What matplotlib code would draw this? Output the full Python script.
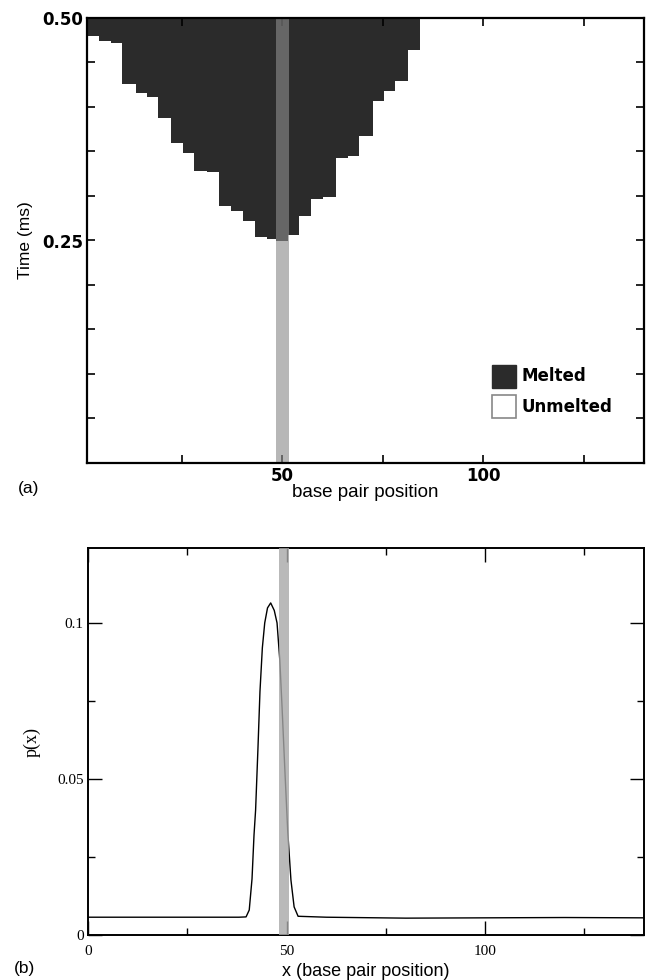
import numpy as np
import matplotlib
matplotlib.use("Agg")
import matplotlib.pyplot as plt
from matplotlib.patches import Patch
from matplotlib.ticker import MultipleLocator

# ---------------- data: panel (a) melting front ----------------
# boundaries (base pair position) of the melted columns and their melting time (ms)
front_pos = [1.5, 4.46, 7.43, 10.08, 13.61, 16.34, 19.23, 22.45, 25.42, 28.22,
             31.36, 34.41, 37.30, 40.17, 43.32, 46.21, 48.51, 51.6, 54.3, 57.2,
             60.1, 63.5, 66.3, 69.1, 72.5, 75.3, 78.1, 81.3, 84.2]
melt_time = [0.480, 0.4736, 0.4718, 0.426, 0.416, 0.4115, 0.388, 0.360, 0.348,
             0.3285, 0.3274, 0.2887, 0.2827, 0.2715, 0.2537, 0.2515, 0.2497,
             0.2559, 0.2776, 0.2969, 0.2988, 0.3423, 0.3452, 0.3675, 0.4066,
             0.4178, 0.4297, 0.4635]
t_max = 0.50
stem_a = (48.5, 51.7)

# ---------------- data: panel (b) probability p(x) ----------------
px_x = [0, 20, 38, 39.8, 40.6, 41.3, 41.8, 42.2, 42.8, 43.3, 43.9, 44.5, 45.2,
        46.0, 46.9, 47.6, 48.3, 48.9, 49.6, 50.3, 51.1, 51.9, 52.9, 60, 80,
        100, 120, 140]
px_p = [0.0057, 0.0057, 0.0057, 0.0058, 0.008, 0.018, 0.032, 0.040, 0.060,
        0.078, 0.092, 0.100, 0.1048, 0.1064, 0.104, 0.100, 0.088, 0.072,
        0.052, 0.033, 0.0176, 0.009, 0.006, 0.0057, 0.0054, 0.0055, 0.0056,
        0.0055]
stem_b = (48.1, 50.6)

fig = plt.figure(figsize=(6.46, 9.8), dpi=100)

# ================= panel (a) =================
axa = fig.add_axes([87/646, 1-463/980, (644-87)/646, (463-18)/980])
xe = np.array(front_pos)
te = np.array(melt_time + [melt_time[-1]])
axa.fill_between(xe, te, t_max, step='post', color='#2b2b2b', linewidth=0, zorder=1)
axa.axvspan(stem_a[0], stem_a[1], color='#8c8c8c', alpha=0.62, linewidth=0, zorder=2)
axa.set_xlim(1.5, 140)
axa.set_ylim(0, 0.5)
axa.xaxis.set_minor_locator(MultipleLocator(25))
axa.set_xticks([50, 100])
axa.set_xticklabels(['50', '100'])
axa.set_yticks([0.25, 0.50])
axa.set_yticklabels(['0.25', '0.50'])
axa.yaxis.set_minor_locator(MultipleLocator(0.05))
axa.tick_params(which='both', direction='in', top=True, right=True, width=1.2, color='black')
axa.tick_params(which='major', length=6, pad=3)
axa.tick_params(which='minor', length=6)
for lab in axa.get_xticklabels() + axa.get_yticklabels():
    lab.set_fontweight('bold')
    lab.set_fontsize(12)
for s in axa.spines.values():
    s.set_linewidth(1.6)
axa.set_ylabel('Time (ms)', fontsize=12.5, family='Liberation Sans', labelpad=6)
axa.set_xlabel('base pair position', fontsize=13.5, family='Liberation Sans', labelpad=-1)
leg = axa.legend(handles=[Patch(facecolor='#2b2b2b', edgecolor='#2b2b2b', label='Melted'),
                          Patch(facecolor='white', edgecolor='#888888', linewidth=1.2, label='Unmelted')],
                 loc='upper left', bbox_to_anchor=(0.70, 0.255), frameon=False,
                 handlelength=1.45, handleheight=1.75, handletextpad=0.3, labelspacing=0.45,
                 prop={'size': 12, 'weight': 'bold'})
fig.text(18/646, 1-488/980, '(a)', fontsize=12.5, family='Liberation Sans', va='center')

# ================= panel (b) =================
axb = fig.add_axes([88/646, 1-935/980, (644-88)/646, (935-548)/980])
axb.plot(px_x, px_p, color='black', linewidth=1.0, zorder=2)
axb.axvspan(stem_b[0], stem_b[1], color='#a8a8a8', alpha=0.8, linewidth=0, zorder=3)
axb.set_xlim(0, 140)
axb.set_ylim(0, 0.124)
axb.xaxis.set_minor_locator(MultipleLocator(25))
axb.yaxis.set_minor_locator(MultipleLocator(0.025))
axb.set_xticks([0, 50, 100])
axb.set_xticklabels(['0', '50', '100'])
axb.set_yticks([0, 0.05, 0.1])
axb.set_yticklabels(['0', '0.05', '0.1'])
axb.tick_params(which='both', direction='in', top=True, right=True, width=1.0)
axb.tick_params(axis='x', which='major', length=10, pad=7)
axb.tick_params(axis='y', which='major', length=10, pad=3)
axb.tick_params(which='minor', length=5)
for lab in axb.get_xticklabels() + axb.get_yticklabels():
    lab.set_family('Liberation Serif')
    lab.set_fontsize(11)
for s in axb.spines.values():
    s.set_linewidth(1.4)
axb.set_ylabel('p(x)', fontsize=13, family='Liberation Serif', labelpad=12)
axb.set_xlabel('x (base pair position)', fontsize=13, family='Liberation Sans', labelpad=4)
fig.text(14/646, 1-968/980, '(b)', fontsize=12.5, family='Liberation Sans', va='center')

fig.savefig('out.png', dpi=100)
